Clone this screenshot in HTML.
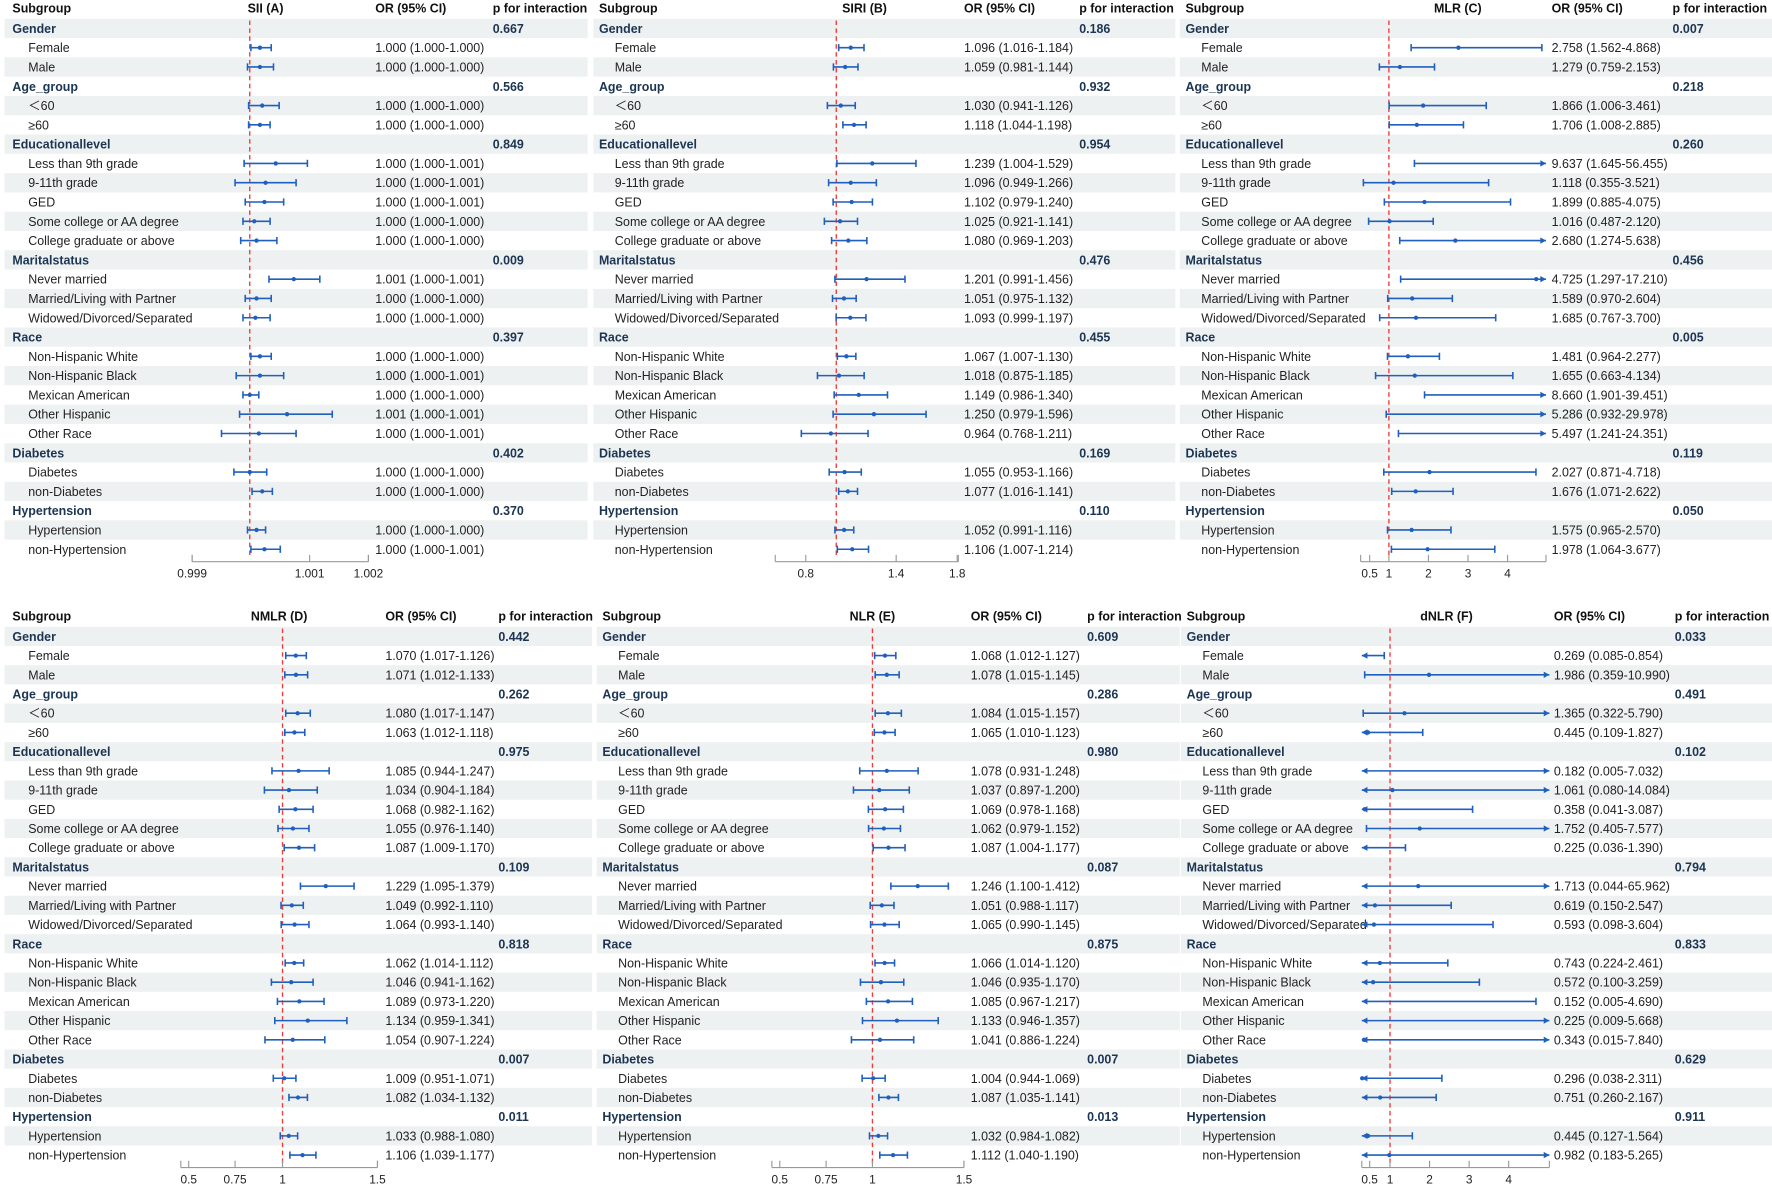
<!DOCTYPE html>
<html><head><meta charset="utf-8"><style>
html,body{margin:0;padding:0;background:#fff;}
svg{display:block;font-family:"Liberation Sans",Arial,sans-serif;}
</style></head><body>
<svg id="s" width="1772" height="1188" viewBox="0 0 1568 1051" xmlns="http://www.w3.org/2000/svg"></svg>
<script>
const NS="http://www.w3.org/2000/svg";const S=document.getElementById('s');
function el(t,a,txt){const e=document.createElementNS(NS,t);for(const k in a)e.setAttribute(k,a[k]);if(txt!==undefined)e.textContent=txt;S.appendChild(e);return e;}
const rows=[["Gender",1],["Female"],["Male"],["Age_group",1],["＜60"],["≥60"],["Educationallevel",1],["Less than 9th grade"],["9-11th grade"],["GED"],["Some college or AA degree"],["College graduate or above"],["Maritalstatus",1],["Never married"],["Married/Living with Partner"],["Widowed/Divorced/Separated"],["Race",1],["Non-Hispanic White"],["Non-Hispanic Black"],["Mexican American"],["Other Hispanic"],["Other Race"],["Diabetes",1],["Diabetes"],["non-Diabetes"],["Hypertension",1],["Hypertension"],["non-Hypertension"]];
function P(s){return s.trim().split(/\s*;\s*/).map(x=>{const m=x.match(/([\d.]+)\s*\(([\d.]+)-([\d.]+)\)/);return [+m[1],+m[2],+m[3]];});}
const A_OR="1.000 (1.000-1.000);1.000 (1.000-1.000);1.000 (1.000-1.000);1.000 (1.000-1.000);1.000 (1.000-1.001);1.000 (1.000-1.001);1.000 (1.000-1.001);1.000 (1.000-1.000);1.000 (1.000-1.000);1.001 (1.000-1.001);1.000 (1.000-1.000);1.000 (1.000-1.000);1.000 (1.000-1.000);1.000 (1.000-1.001);1.000 (1.000-1.000);1.001 (1.000-1.001);1.000 (1.000-1.001);1.000 (1.000-1.000);1.000 (1.000-1.000);1.000 (1.000-1.000);1.000 (1.000-1.001)";
const Apx=[[230,222,240],[230,219,242],[232,220,247],[230,220,239],[244,216,272],[235,208,262],[234,217,251],[225,215,239],[227,213,245],[260,238,283],[227,217,240],[226,215,239],[230,222,240],[230,209,251],[221,215,229],[254,212,294],[229,196,262],[221,207,236],[232,223,241],[227,219,235],[234,222,248]];
const B_OR="1.096 (1.016-1.184);1.059 (0.981-1.144);1.030 (0.941-1.126);1.118 (1.044-1.198);1.239 (1.004-1.529);1.096 (0.949-1.266);1.102 (0.979-1.240);1.025 (0.921-1.141);1.080 (0.969-1.203);1.201 (0.991-1.456);1.051 (0.975-1.132);1.093 (0.999-1.197);1.067 (1.007-1.130);1.018 (0.875-1.185);1.149 (0.986-1.340);1.250 (0.979-1.596);0.964 (0.768-1.211);1.055 (0.953-1.166);1.077 (1.016-1.141);1.052 (0.991-1.116);1.106 (1.007-1.214)";
const C_OR="2.758 (1.562-4.868);1.279 (0.759-2.153);1.866 (1.006-3.461);1.706 (1.008-2.885);9.637 (1.645-56.455);1.118 (0.355-3.521);1.899 (0.885-4.075);1.016 (0.487-2.120);2.680 (1.274-5.638);4.725 (1.297-17.210);1.589 (0.970-2.604);1.685 (0.767-3.700);1.481 (0.964-2.277);1.655 (0.663-4.134);8.660 (1.901-39.451);5.286 (0.932-29.978);5.497 (1.241-24.351);2.027 (0.871-4.718);1.676 (1.071-2.622);1.575 (0.965-2.570);1.978 (1.064-3.677)";
const D_OR="1.070 (1.017-1.126);1.071 (1.012-1.133);1.080 (1.017-1.147);1.063 (1.012-1.118);1.085 (0.944-1.247);1.034 (0.904-1.184);1.068 (0.982-1.162);1.055 (0.976-1.140);1.087 (1.009-1.170);1.229 (1.095-1.379);1.049 (0.992-1.110);1.064 (0.993-1.140);1.062 (1.014-1.112);1.046 (0.941-1.162);1.089 (0.973-1.220);1.134 (0.959-1.341);1.054 (0.907-1.224);1.009 (0.951-1.071);1.082 (1.034-1.132);1.033 (0.988-1.080);1.106 (1.039-1.177)";
const E_OR="1.068 (1.012-1.127);1.078 (1.015-1.145);1.084 (1.015-1.157);1.065 (1.010-1.123);1.078 (0.931-1.248);1.037 (0.897-1.200);1.069 (0.978-1.168);1.062 (0.979-1.152);1.087 (1.004-1.177);1.246 (1.100-1.412);1.051 (0.988-1.117);1.065 (0.990-1.145);1.066 (1.014-1.120);1.046 (0.935-1.170);1.085 (0.967-1.217);1.133 (0.946-1.357);1.041 (0.886-1.224);1.004 (0.944-1.069);1.087 (1.035-1.141);1.032 (0.984-1.082);1.112 (1.040-1.190)";
const F_OR="0.269 (0.085-0.854);1.986 (0.359-10.990);1.365 (0.322-5.790);0.445 (0.109-1.827);0.182 (0.005-7.032);1.061 (0.080-14.084);0.358 (0.041-3.087);1.752 (0.405-7.577);0.225 (0.036-1.390);1.713 (0.044-65.962);0.619 (0.150-2.547);0.593 (0.098-3.604);0.743 (0.224-2.461);0.572 (0.100-3.259);0.152 (0.005-4.690);0.225 (0.009-5.668);0.343 (0.015-7.840);0.296 (0.038-2.311);0.751 (0.260-2.167);0.445 (0.127-1.564);0.982 (0.183-5.265)";
const panels=[
{sx:11,tx:235,title:"SII  (A)",ox:332,px:436,y0:25,step:17.07,st1:4,st2:520,or:A_OR,px_:Apx,ref:221,ax:[170,326],ticks:[[170,"0.999"],[274,"1.001"],[326,"1.002"]],p:["0.667","0.566","0.849","0.009","0.397","0.402","0.370"]},
{sx:530,tx:765,title:"SIRI  (B)",ox:853,px:955,y0:25,step:17.07,st1:525,st2:1040,or:B_OR,m:v=>740+(v-1)*133.3,ref:740,ax:[686,848],ticks:[[713,"0.8"],[793,"1.4"],[847,"1.8"]],p:["0.186","0.932","0.954","0.476","0.455","0.169","0.110"]},
{sx:1049,tx:1290,title:"MLR  (C)",ox:1373,px:1480,y0:25,step:17.07,st1:1044,st2:1568,or:C_OR,m:v=>1229+(v-1)*35,ref:1229,ax:[1204,1368],ticks:[[1212,"0.5"],[1229,"1"],[1264,"2"],[1299,"3"],[1334,"4"]],p:["0.007","0.218","0.260","0.456","0.005","0.119","0.050"]},
{sx:11,tx:247,title:"NMLR  (D)",ox:341,px:441,y0:563,step:17.0,st1:4,st2:524,or:D_OR,m:v=>250+(v-1)*167,ref:250,ax:[160,334],ticks:[[167,"0.5"],[208,"0.75"],[250,"1"],[334,"1.5"]],p:["0.442","0.262","0.975","0.109","0.818","0.007","0.011"]},
{sx:533,tx:772,title:"NLR  (E)",ox:859,px:962,y0:563,step:17.0,st1:528,st2:1044,or:E_OR,m:v=>772+(v-1)*163,ref:772,ax:[683,853],ticks:[[690,"0.5"],[731,"0.75"],[772,"1"],[853,"1.5"]],p:["0.609","0.286","0.980","0.087","0.875","0.007","0.013"]},
{sx:1050,tx:1280,title:"dNLR  (F)",ox:1375,px:1482,y0:563,step:17.0,st1:1045,st2:1568,or:F_OR,m:v=>1230+(v-1)*35,ref:1230,ax:[1205,1371],ticks:[[1212,"0.5"],[1230,"1"],[1265,"2"],[1300,"3"],[1335,"4"]],p:["0.033","0.491","0.102","0.794","0.833","0.629","0.911"]}
];
const BLUE="#1f5fbd";
panels.forEach(pn=>{
  const ors=pn.or.split(";");const vals=P(pn.or);
  const hy=pn.y0-18;
  el("text",{x:pn.sx,y:hy+4,"font-size":11,"font-weight":"bold",fill:"#111"},"Subgroup");
  el("text",{x:pn.tx,y:hy+4,"font-size":11,"font-weight":"bold",fill:"#111","text-anchor":"middle"},pn.title);
  el("text",{x:pn.ox,y:hy+4,"font-size":11,"font-weight":"bold",fill:"#111"},"OR (95% CI)");
  el("text",{x:pn.px,y:hy+4,"font-size":11,"font-weight":"bold",fill:"#111"},"p for interaction");
  let di=0,gi=0;
  rows.forEach((r,i)=>{const y=pn.y0+i*pn.step;
    if(i%2==0)el("rect",{x:pn.st1,y:y-8.5,width:pn.st2-pn.st1,height:pn.step,fill:"#eef1f1"});});
  const yEnd=pn.y0+27*pn.step;
  el("line",{x1:pn.ref,y1:pn.y0-7,x2:pn.ref,y2:yEnd+8,stroke:"#ee3b3b","stroke-width":1.2,"stroke-dasharray":"4,3"});
  rows.forEach((r,i)=>{const y=pn.y0+i*pn.step;
    if(r[1]){el("text",{x:pn.sx,y:y+4,"font-size":11,"font-weight":"bold",fill:"#1c3553"},r[0]);
      el("text",{x:pn.px,y:y+4,"font-size":11,"font-weight":"bold",fill:"#1c3553"},pn.p[gi++]);return;}
    el("text",{x:pn.sx+14,y:y+4,"font-size":11,fill:"#222"},r[0]);
    el("text",{x:pn.ox,y:y+4,"font-size":11,fill:"#222"},ors[di]);
    let pt,lo,hi;
    if(pn.px_){[pt,lo,hi]=pn.px_[di];}else{const v=vals[di];pt=pn.m(v[0]);lo=pn.m(v[1]);hi=pn.m(v[2]);}
    const L=pn.ax[0],R=pn.ax[1];let la=false,ra=false;
    if(lo<L){lo=L;la=true;} if(hi>R){hi=R;ra=true;}
    el("line",{x1:lo,y1:y,x2:hi,y2:y,stroke:BLUE,"stroke-width":1.4});
    if(la)el("polygon",{points:`${lo},${y} ${lo+5},${y-2.8} ${lo+5},${y+2.8}`,fill:BLUE});
    else el("line",{x1:lo,y1:y-3.2,x2:lo,y2:y+3.2,stroke:BLUE,"stroke-width":1.4});
    if(ra)el("polygon",{points:`${hi},${y} ${hi-5},${y-2.8} ${hi-5},${y+2.8}`,fill:BLUE});
    else el("line",{x1:hi,y1:y-3.2,x2:hi,y2:y+3.2,stroke:BLUE,"stroke-width":1.4});
    if(pt>=L&&pt<=R)el("circle",{cx:pt,cy:y,r:1.9,fill:BLUE});
    di++;});
  const ay=yEnd+11;
  el("line",{x1:pn.ax[0],y1:ay,x2:pn.ax[1],y2:ay,stroke:"#999","stroke-width":1});
  [pn.ax[0],pn.ax[1]].forEach(x=>el("line",{x1:x,y1:ay-6,x2:x,y2:ay,stroke:"#999","stroke-width":1}));
  pn.ticks.forEach(t=>{el("line",{x1:t[0],y1:ay-6,x2:t[0],y2:ay,stroke:"#999","stroke-width":1});
    el("text",{x:t[0],y:ay+14,"font-size":10.5,fill:"#222","text-anchor":"middle"},t[1]);});
});
</script>
</body></html>
